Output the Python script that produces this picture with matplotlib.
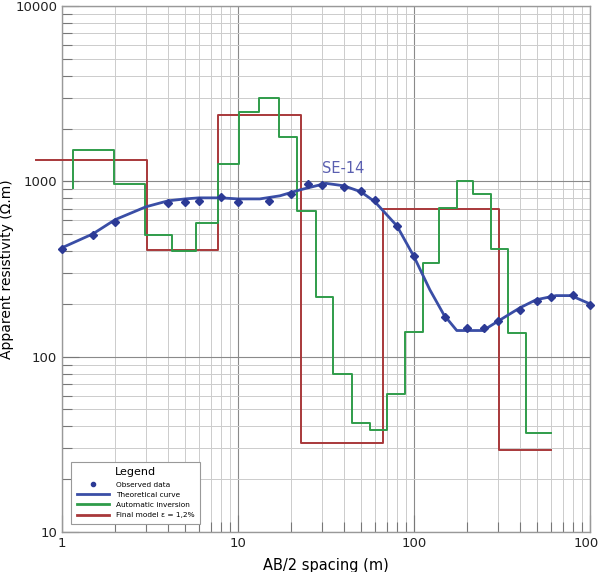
import matplotlib
matplotlib.use("Agg")
import matplotlib.pyplot as plt
from matplotlib.ticker import LogLocator, FuncFormatter, NullFormatter

# --- Observed data (AB/2 in m, apparent resistivity in ohm.m) ---
ab2_obs = [1, 1.5, 2, 4, 5, 6, 8, 10, 15, 20, 25, 30, 40, 50, 60, 80,
           100, 150, 200, 250, 300, 400, 500, 600, 800, 1000]
rho_obs = [411, 495, 590, 752, 761, 777, 819, 759, 777, 852, 961, 955, 934,
           886, 785, 556, 374, 168, 145, 145, 159, 185, 208, 220, 225, 198]

# --- Theoretical curve ---
ab2_curve = [1, 1.5, 2, 3, 4, 5, 6, 8, 10, 13.3, 17.3, 22.5, 31.6, 40, 50,
             60, 80, 100, 123, 148, 175, 247, 296, 400, 493, 641, 780, 1000]
rho_curve = [418, 502, 604, 716, 774, 794, 805, 805, 794, 794, 827, 894, 974,
             943, 871, 764, 557, 372, 241, 173, 141, 141, 158, 190, 211, 223,
             223, 200]

# --- Automatic inversion (step model) ---
inv_edges = [1.15, 1.97, 2.96, 4.2, 5.75, 7.7, 10.1, 13.2, 17.2, 21.6, 27.6,
             34.8, 44.3, 56.2, 70, 88.5, 112, 139, 175, 217, 274, 341, 431, 598]
inv_rho = [1510, 968, 495, 398, 582, 1258, 2490, 2980, 1780, 673, 219, 80,
           41.9, 38.4, 61.3, 139, 342, 703, 998, 845, 412, 137, 36.7]
inv_start = 918

# --- Final model ---
mod_edges = [0.71, 3.03, 7.66, 22.7, 66.5, 304, 598]
mod_rho = [1327, 404, 2392, 32.2, 694, 29.2]


def step_xy(edges, levels, start=None):
    xs, ys = [], []
    if start is not None:
        xs.append(edges[0])
        ys.append(start)
    for i, lev in enumerate(levels):
        xs += [edges[i], edges[i + 1]]
        ys += [lev, lev]
    return xs, ys


fig = plt.figure(figsize=(5.98, 5.72), dpi=100)
ax = fig.add_axes([0.1037, 0.0699, 0.8829, 0.9196])
ax.set_xscale("log")
ax.set_yscale("log")
ax.set_xlim(1, 1000)
ax.set_ylim(10, 10000)

grid_major = "#8a8a8a"
grid_minor = "#cccccc"
ax.xaxis.set_major_locator(LogLocator(base=10))
ax.yaxis.set_major_locator(LogLocator(base=10))
ax.xaxis.set_minor_locator(LogLocator(base=10, subs=range(2, 10)))
ax.yaxis.set_minor_locator(LogLocator(base=10, subs=range(2, 10)))
ax.grid(which="major", color=grid_major, lw=0.8)
ax.grid(which="minor", color=grid_minor, lw=0.7)
ax.set_axisbelow(True)

fmt = FuncFormatter(lambda v, p: "%d" % round(v))
ax.xaxis.set_major_formatter(fmt)
ax.yaxis.set_major_formatter(fmt)
ax.xaxis.set_minor_formatter(NullFormatter())
ax.yaxis.set_minor_formatter(NullFormatter())
ax.tick_params(which="both", direction="in", color="#777777", labelsize=9.5,
               labelcolor="#222222")
ax.tick_params(which="major", length=12, width=0.8)
ax.tick_params(which="minor", length=7, width=0.8)
for s in ax.spines.values():
    s.set_color("#999999")
    s.set_linewidth(1.0)

red = "#a8383a"
green = "#2f9c4a"
blue = "#3a4ea6"

xs, ys = step_xy(mod_edges, mod_rho)
ax.plot(xs, ys, color=red, lw=1.4, clip_on=False, zorder=3)
xs, ys = step_xy(inv_edges, inv_rho, inv_start)
ax.plot(xs, ys, color=green, lw=1.4, zorder=4)
ax.plot(ab2_curve, rho_curve, color=blue, lw=2.0, zorder=5)
ax.plot(ab2_obs, rho_obs, "D", color="#2c3a95", ms=3.6, zorder=6, clip_on=False)

ax.text(39.5, 1178, "SE-14", color="#5a5fb0", fontsize=10.5,
        ha="center", va="center")

ax.set_xlabel("AB/2 spacing (m)", fontsize=10.5, labelpad=6)
ax.set_ylabel("Apparent resistivity (Ω.m)", fontsize=10, labelpad=1)

h_obs, = ax.plot([], [], "o", color="#2c3a95", ms=3)
h_cur, = ax.plot([], [], color=blue, lw=2.0)
h_inv, = ax.plot([], [], color=green, lw=2.0)
h_mod, = ax.plot([], [], color=red, lw=2.0)
leg = ax.legend([h_obs, h_cur, h_inv, h_mod],
                ["Observed data", "Theoretical curve", "Automatic inversion",
                 "Final model ε = 1,2%"],
                title="Legend", loc="lower left", fontsize=5.3,
                title_fontsize=8, fancybox=False, framealpha=1,
                edgecolor="#999999", handlelength=4.3, borderpad=0.8,
                labelspacing=0.55, handletextpad=1.0,
                bbox_to_anchor=(0.01, 0.008))
leg.get_frame().set_linewidth(0.8)

fig.savefig("out.png", dpi=100)
